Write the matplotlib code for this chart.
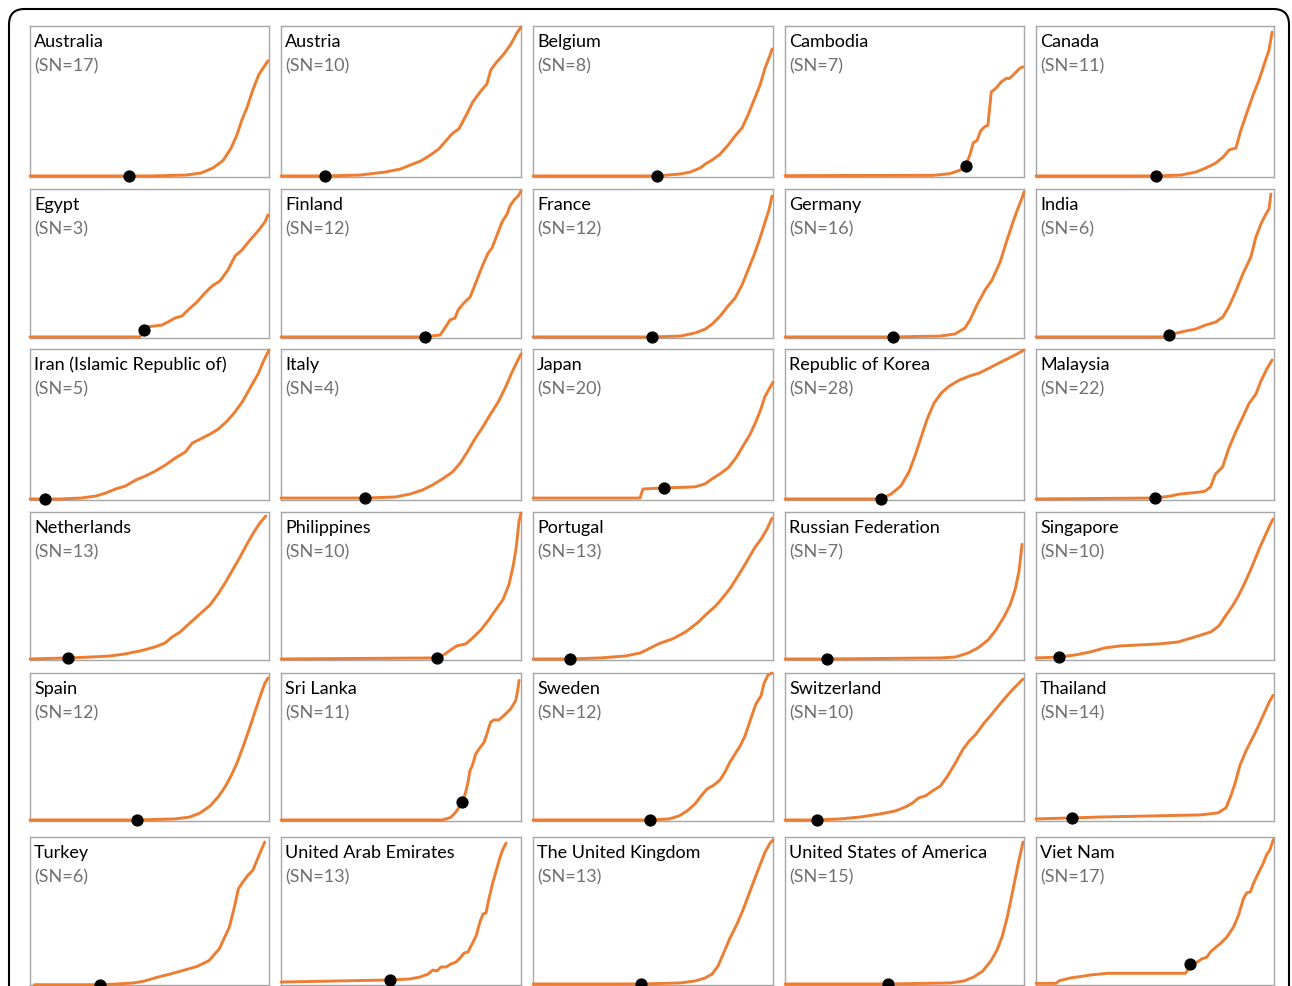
import matplotlib
matplotlib.use("Agg")
import matplotlib.pyplot as plt
from matplotlib.patches import FancyBboxPatch
import numpy as np

W, H = 1292, 986

countries = ["Australia", "Austria", "Belgium", "Cambodia", "Canada",
             "Egypt", "Finland", "France", "Germany", "India",
             "Iran (Islamic Republic of)", "Italy", "Japan", "Republic of Korea", "Malaysia",
             "Netherlands", "Philippines", "Portugal", "Russian Federation", "Singapore",
             "Spain", "Sri Lanka", "Sweden", "Switzerland", "Thailand",
             "Turkey", "United Arab Emirates", "The United Kingdom", "United States of America", "Viet Nam"]
sn_counts = [17, 10, 8, 7, 11,
             3, 12, 12, 16, 6,
             5, 4, 20, 28, 22,
             13, 10, 13, 7, 10,
             12, 11, 12, 10, 14,
             6, 13, 13, 15, 17]
# day of the marked point on each curve (same 0-100 scale as the x values)
dot_x = [41.4, 18.4, 51.5, 75.7, 50.4,
         47.7, 60.0, 49.4, 45.2, 56.0,
         6.3, 34.9, 54.6, 40.2, 50.0,
         15.9, 64.9, 15.5, 17.5, 9.7,
         44.8, 75.5, 48.8, 13.4, 15.1,
         29.3, 45.4, 45.0, 43.3, 64.9]

# cumulative curves, x and y both scaled 0-100
x_australia = [0, 50.6, 65.3, 71.5, 76.6, 80.8, 84.1, 86.6, 88.7, 90.8, 93.3, 95.8, 97.9, 99.6]
y_australia = [0.7, 0.7, 1.3, 2.6, 6, 11, 19, 28, 38, 46, 58, 68, 73, 77]
x_austria = [0, 18.4, 33, 43.5, 49.8, 54, 58.2, 62.3, 65.7, 69, 71.5, 74.1, 77.4, 79.9, 83.3, 85.8, 87.4, 89.9, 92.9, 95.8, 98.3, 100]
y_austria = [0.7, 0.7, 1.3, 3.3, 5.3, 8, 10.6, 14.6, 18.5, 24.5, 29, 31.8, 41.7, 49.7, 57, 61.6, 70.9, 76.2, 81.5, 88, 95.4, 99.3]
x_belgium = [0, 51.5, 61.4, 65.6, 69.7, 71.8, 74.7, 78, 81.3, 84.2, 87.1, 89.6, 92.1, 94.6, 96.7, 98.8, 99.6]
y_belgium = [0.7, 0.7, 2, 3.3, 6, 8.6, 11.3, 15.2, 21.2, 27.2, 32.5, 41.1, 51, 60.9, 72.2, 80.8, 84.8]
x_cambodia = [0, 61.9, 68.9, 73.2, 75.7, 77.4, 78.8, 80.4, 81.8, 83.5, 84.9, 86.3, 88.4, 90.5, 92.6, 94, 96.1, 98.2, 99.6]
y_cambodia = [0.9, 1.1, 2.2, 4.5, 7.6, 14.9, 22.7, 24.3, 30.5, 33.2, 34.3, 56.3, 59, 63, 65.3, 65.3, 68.6, 71.9, 73]
x_canada = [0, 50.4, 61, 67.2, 71.4, 75.6, 78.6, 81.1, 84, 86.1, 88.7, 91.2, 93.7, 96.2, 97.9, 99.2]
y_canada = [0.7, 0.7, 1.3, 3.3, 6, 9.3, 13.2, 17.9, 19.2, 31.1, 43, 54.3, 64.2, 76.2, 84.1, 96]

x_egypt = [0, 46, 47.7, 48.5, 52.3, 55.2, 57.7, 60.7, 63.6, 67, 69.9, 73.2, 76.2, 79.5, 82.8, 85.8, 88.7, 92.1, 95.4, 98.3, 99.6]
y_egypt = [0.7, 0.7, 5.4, 7.4, 8.1, 8.7, 10.7, 13.4, 14.8, 20.1, 24.2, 30.2, 34.9, 38.3, 45.6, 55, 59.1, 65.8, 71.8, 77.9, 82.6]
x_finland = [0, 60, 62.1, 66.3, 68.3, 70.4, 72.5, 73.8, 75.8, 77.5, 78.8, 80.8, 82.9, 84.6, 86.3, 87.9, 90, 92.1, 94.2, 95.4, 97.1, 98.8, 100]
y_finland = [0.7, 0.7, 1.3, 2, 6.7, 12.1, 13.4, 18.8, 22.8, 25.5, 27.5, 35.6, 44.3, 51, 57, 60.4, 69.1, 77.9, 83.2, 88.6, 92.6, 95.3, 98.7]
x_france = [0, 49.4, 61.4, 67.6, 71.8, 74.7, 78, 81.3, 84.2, 87.1, 89.6, 92.1, 94.6, 96.7, 98.3, 99.6]
y_france = [0.7, 0.7, 1.3, 3.4, 6, 9.4, 14.8, 21.5, 26.8, 35.6, 45.6, 55.7, 67.1, 77.9, 85.9, 95.3]
x_germany = [0, 45.2, 64.9, 71.1, 75.3, 77.4, 80.3, 83.7, 86.6, 90, 92.9, 95.4, 97.5, 99.2, 100]
y_germany = [0.7, 0.7, 1.3, 2.7, 6.7, 12.1, 22.1, 32.2, 38.9, 51, 65.8, 77.9, 87.2, 94, 98]
x_india = [0, 54.4, 57.4, 62.9, 67.1, 71.3, 75.5, 78.5, 81, 84, 86.9, 90.3, 92.4, 94.5, 96.6, 97.9, 98.7]
y_india = [0.7, 0.7, 2.7, 4.7, 6, 8.7, 10.7, 14.1, 20.8, 31.5, 43, 54.4, 67.8, 76.5, 83.2, 86.6, 96.6]

x_iran = [0, 12.9, 21.3, 27.5, 31.7, 35.8, 40, 44.2, 48.3, 52.5, 56.7, 60.8, 65, 67.9, 71.3, 75.4, 78.8, 82.1, 85.4, 88.8, 92.1, 95.4, 97.9, 100]
y_iran = [0.7, 0.7, 1.3, 2.6, 4.6, 7.3, 9.3, 13.2, 15.9, 19.2, 23.2, 27.8, 31.8, 37.7, 40.4, 43.7, 47, 51.7, 57.6, 64.9, 74.2, 83.4, 92.7, 99.3]
x_italy = [0, 34.9, 47.7, 53.9, 58.9, 63.1, 67.2, 71.4, 74.7, 77.6, 80.5, 83.8, 87.1, 90.5, 93.4, 96.3, 98.3, 100]
y_italy = [1.3, 1.3, 2, 4, 6.6, 9.9, 13.9, 18.5, 24.5, 31.8, 39.7, 47.7, 56.3, 64.9, 74.2, 84.8, 91.4, 96.7]
x_japan = [0, 44.6, 45.8, 54.6, 67.5, 71.7, 74.6, 77.9, 81.3, 84.6, 87.1, 90.4, 92.9, 94.6, 96.7, 98.8, 100]
y_japan = [1.3, 1.3, 7.3, 8, 8.7, 10.7, 14, 17.3, 21.3, 28, 34.7, 43.3, 52, 58.7, 68.7, 74.7, 78]
x_korea = [0, 40.2, 44.4, 48.5, 51.9, 54.4, 56.9, 59.4, 62.3, 65.3, 68.6, 72.8, 77, 81.2, 85.4, 89.5, 93.7, 97.1, 100]
y_korea = [0.7, 0.7, 4, 9.3, 18.7, 29.3, 41.3, 53.3, 64, 70.7, 75.3, 79.3, 82, 84, 87.3, 90.7, 94, 96.7, 99.3]
x_malaysia = [0, 50, 56.4, 60.6, 64.8, 69.1, 71.2, 73.3, 75.4, 76.7, 78.4, 80.9, 83.9, 86.9, 89.4, 92.4, 94.5, 97, 99.2]
y_malaysia = [0.7, 1.3, 2.6, 4, 4.6, 5.3, 6, 8.6, 17.2, 19.2, 21.9, 33.8, 45, 55, 63.6, 70.2, 78.8, 86.8, 92.7]

x_netherlands = [0, 15.9, 25.1, 33.5, 39.7, 46, 52.3, 56.5, 59.4, 62.8, 66.9, 71.1, 75.3, 78.7, 81.6, 84.5, 87.9, 90.8, 93.7, 96.2, 98.7]
y_netherlands = [0.7, 1.4, 2, 2.7, 4.1, 6.1, 8.8, 11.5, 15.5, 18.9, 25, 31.1, 37.2, 44.6, 52, 60.1, 69.6, 78.4, 86.5, 92.6, 97.3]
x_philippines = [0, 64.9, 67.8, 70.7, 73.2, 77, 79.9, 83.3, 86.6, 89.5, 92.5, 95, 96.7, 97.9, 99.2, 100]
y_philippines = [0.7, 1.4, 3.4, 6.8, 9.5, 10.9, 15, 20.4, 27.2, 34, 40.8, 51, 63.3, 74.8, 93.9, 99.3]
x_portugal = [0, 15.5, 28, 38.5, 44.8, 49, 52.3, 58.2, 63.6, 68.6, 72, 76.2, 79.1, 82.4, 85.8, 89.1, 92.5, 95, 97.5, 99.6]
y_portugal = [0.7, 0.7, 1.4, 2.7, 4.8, 8.2, 10.9, 14.3, 19, 25.2, 30.6, 36.7, 42.2, 49, 57.8, 66.7, 76.2, 81.6, 88.4, 95.9]
x_russia = [0, 17.5, 65, 71.3, 76.7, 80.8, 85, 88.3, 91.7, 94.2, 96.3, 97.9, 99.2]
y_russia = [0.7, 0.7, 1.4, 2, 4.8, 8.2, 13.6, 20.4, 29.3, 37.4, 47.6, 59.9, 78.2]
x_singapore = [0, 9.7, 16.4, 22.7, 29, 35.3, 43.7, 52.1, 59.7, 66.8, 73.5, 76.9, 79.4, 82.4, 84.9, 87.4, 89.9, 92, 94.1, 96.2, 98.3, 99.6]
y_singapore = [1.4, 2, 3.4, 5.4, 8.2, 9.5, 10.2, 10.9, 12.2, 15.6, 19, 23.1, 29.3, 36.1, 42.9, 51, 59.9, 68, 76.2, 83.7, 91.2, 95.2]

x_spain = [0, 44.8, 60.7, 66.9, 71.1, 75.3, 78.7, 81.6, 84.1, 86.6, 89.1, 91.6, 94.1, 96.2, 98.3, 99.6]
y_spain = [0.7, 0.7, 1.4, 2.7, 5.4, 10.1, 16.2, 23, 30.4, 39.2, 50, 61.5, 73.6, 83.8, 93.2, 96.6]
x_srilanka = [0, 67.2, 70.6, 72.7, 74.1, 75.5, 76.9, 77.9, 78.7, 79.7, 81.1, 82.5, 84.6, 86, 87.3, 88.7, 90.8, 92.9, 95.7, 97.8, 98.5, 99.2]
y_srilanka = [0.7, 0.7, 2.3, 5.7, 9, 12.7, 19.2, 26, 33.9, 37.3, 45.2, 48.6, 53.2, 59.9, 66.7, 68.3, 68.3, 71.3, 75.8, 81.4, 87.1, 95]
x_sweden = [0, 48.8, 56.7, 60.8, 64.2, 67.5, 70, 72.5, 75.4, 77.9, 80, 82.1, 84.2, 86.3, 88.3, 90, 91.7, 92.9, 95, 96.3, 97.9, 99.6]
y_sweden = [0.7, 0.7, 1.4, 3.4, 6.8, 11.5, 16.9, 21.6, 24.3, 27.7, 33.1, 39.9, 45.3, 50.7, 57.4, 65.5, 73.6, 79.1, 84.5, 93.2, 98.6, 100]
x_switzerland = [0, 13.4, 23.1, 31.5, 39.9, 46.2, 50.4, 53.4, 55.9, 58.8, 61.8, 65.1, 68.1, 71.4, 74.4, 76.9, 79.8, 83.2, 86.1, 89.5, 92.4, 95.4, 97.9, 99.6]
y_switzerland = [0.7, 0.7, 1.4, 2.7, 4.8, 6.8, 9.5, 12.2, 15.6, 17, 20.4, 23.8, 30.6, 39.5, 48.3, 53.7, 58.5, 66, 71.4, 78.2, 83.7, 89.1, 93.2, 95.9]
x_thailand = [0, 15.1, 26.9, 47.9, 68.9, 76.5, 79.8, 81.9, 83.6, 85.7, 88.2, 90.8, 93.3, 95.8, 97.9, 99.6]
y_thailand = [1.4, 2.1, 2.7, 3.4, 4.1, 5.5, 8.9, 17.1, 25.3, 37.7, 47.3, 55.5, 63.7, 72.6, 80.1, 84.9]

x_turkey = [1.8, 29.3, 36.3, 43.3, 47.5, 53.2, 58.8, 64.4, 70, 74.9, 79.2, 83.4, 85.5, 87.2, 89, 91.1, 93.2, 96.1, 98.2]
y_turkey = [0.2, 0.2, 0.7, 1.4, 2.5, 5.2, 7.5, 10, 12.6, 16.5, 24.4, 39.1, 52.6, 65, 69.5, 74, 77.4, 88.7, 96.6]
x_uae = [0, 45.4, 53.8, 57.9, 61.3, 63.3, 65, 66.7, 68.8, 70.8, 72.9, 74.6, 76.3, 77.9, 79.6, 81.3, 82.9, 84.2, 85.4, 86.7, 88.3, 90, 91.3, 92.5, 93.8]
y_uae = [2, 3.4, 4.1, 5.4, 7.4, 10.1, 9.5, 12.2, 12.2, 14.2, 15.5, 18.2, 21.6, 22.3, 27.7, 33.1, 42.6, 48, 48.6, 58.8, 69.6, 79.1, 86.5, 91.9, 95.9]
x_uk = [0, 45, 61.3, 67.5, 71.7, 74.6, 77.1, 79.6, 82.1, 85, 87.5, 90, 92.5, 94.6, 96.7, 98.8, 100]
y_uk = [0.7, 0.7, 1.4, 2.7, 4.7, 7.4, 12.8, 22.3, 31.8, 41.2, 50.7, 61.5, 72.3, 81.1, 89.9, 95.9, 98]
x_usa = [0, 43.3, 69.3, 74.8, 79, 82.8, 86.1, 88.7, 90.8, 92.9, 94.5, 96.2, 97.9, 99.6]
y_usa = [0.7, 0.7, 1.4, 2.7, 5.4, 9.5, 16.2, 23.6, 32.4, 45.3, 57.4, 70.9, 84.5, 96.6]
x_vietnam = [0, 8.4, 9.8, 14.6, 19.5, 23, 30, 62.8, 64.2, 64.9, 67.6, 69.7, 71.8, 73.2, 75.3, 77.4, 80.2, 83, 85.1, 87.2, 88.6, 90, 91.4, 93.4, 95.5, 96.9, 98.3, 99, 99.7]
y_vietnam = [1.1, 1.1, 2.9, 4.8, 5.9, 6.8, 7.9, 7.9, 11.3, 14.3, 15.4, 17.7, 18.8, 22.2, 25.2, 27.9, 32.4, 39.2, 47.2, 58.5, 62.4, 62.8, 68.7, 75.5, 82.3, 88, 91.4, 94.8, 98.2]

curves = [(x_australia, y_australia), (x_austria, y_austria), (x_belgium, y_belgium),
          (x_cambodia, y_cambodia), (x_canada, y_canada),
          (x_egypt, y_egypt), (x_finland, y_finland), (x_france, y_france),
          (x_germany, y_germany), (x_india, y_india),
          (x_iran, y_iran), (x_italy, y_italy), (x_japan, y_japan),
          (x_korea, y_korea), (x_malaysia, y_malaysia),
          (x_netherlands, y_netherlands), (x_philippines, y_philippines), (x_portugal, y_portugal),
          (x_russia, y_russia), (x_singapore, y_singapore),
          (x_spain, y_spain), (x_srilanka, y_srilanka), (x_sweden, y_sweden),
          (x_switzerland, y_switzerland), (x_thailand, y_thailand),
          (x_turkey, y_turkey), (x_uae, y_uae), (x_uk, y_uk),
          (x_usa, y_usa), (x_vietnam, y_vietnam)]

# panel grid in pixels
col_left = [30, 281, 533, 785, 1036]
col_width = [239, 240, 240, 239, 238]
row_top = [26, 189, 349, 512, 673, 837]
row_height = [151, 149, 151, 148, 148, 148]

ORANGE = "#ED7D31"
plt.rcParams["font.family"] = ["Lato", "DejaVu Sans"]

fig = plt.figure(figsize=(W / 100, H / 100), dpi=100)

# rounded outer frame, open at the bottom
frame = FancyBboxPatch((9 / W, -30 / H), 1280 / W, (H - 9 + 30) / H,
                       boxstyle="round,pad=0,rounding_size=0.012",
                       transform=fig.transFigure, fill=False,
                       edgecolor="black", linewidth=1.5,
                       mutation_aspect=W / H)
fig.patches.append(frame)

for i, name in enumerate(countries):
    r, c = divmod(i, 5)
    left, top = col_left[c], row_top[r]
    w, h = col_width[c], row_height[r]
    ax = fig.add_axes([left / W, 1 - (top + h) / H, w / W, h / H])
    xs, ys = curves[i]
    ax.plot(xs, ys, color=ORANGE, lw=2.1, clip_on=False, zorder=3,
            solid_joinstyle="round", solid_capstyle="round")
    dy = np.interp(dot_x[i], xs, ys)
    ax.plot([dot_x[i]], [dy], "o", color="black", ms=7.8, clip_on=False, zorder=4)
    ax.set_xlim(0, 100)
    ax.set_ylim(0, 100)
    ax.set_xticks([])
    ax.set_yticks([])
    for s in ax.spines.values():
        s.set_color("#a6a6a6")
        s.set_linewidth(1.0)
    ax.text(4 / w, 1 - 16 / h, name, transform=ax.transAxes,
            ha="left", va="center", fontsize=13, color="black")
    ax.text(4 / w, 1 - 40 / h, "(SN=%d)" % sn_counts[i], transform=ax.transAxes,
            ha="left", va="center", fontsize=13, color="#707070")

fig.savefig("out.png", dpi=100)
